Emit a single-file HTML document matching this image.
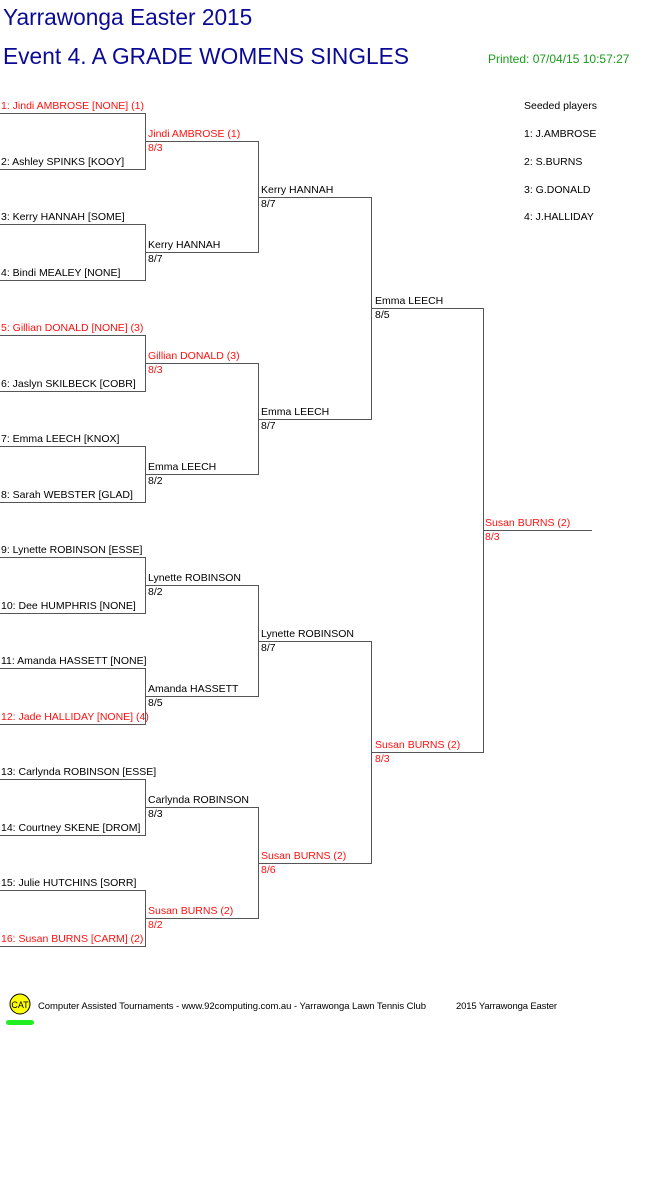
<!DOCTYPE html>
<html><head><meta charset="utf-8"><style>
html,body{margin:0;padding:0;background:#fff;width:661px;height:1196px;overflow:hidden}
svg{display:block}
text{font-family:"Liberation Sans",Arial,sans-serif;font-size:10.5px;fill:#000}
.r{fill:#ff1010}
.t{fill:#0a0a96;font-size:22.7px}
.g{fill:#1a9a1a;font-size:12px}
</style></head><body>
<svg width="661" height="1196" viewBox="0 0 661 1196" xmlns="http://www.w3.org/2000/svg">
<text class="t" x="3" y="25">Yarrawonga Easter 2015</text>
<text class="t" x="3" y="64" textLength="406">Event 4. A GRADE WOMENS SINGLES</text>
<text class="g" x="488" y="63">Printed: 07/04/15 10:57:27</text>
<text x="524" y="109">Seeded players</text>
<text x="524" y="137">1: J.AMBROSE</text>
<text x="524" y="165">2: S.BURNS</text>
<text x="524" y="193">3: G.DONALD</text>
<text x="524" y="220">4: J.HALLIDAY</text>
<g stroke="#555" stroke-width="1" shape-rendering="crispEdges" fill="none">
<path d="M0 113.5H145.5V169.5H0 M0 224.5H145.5V280.5H0 M0 335.5H145.5V391.5H0 M0 446.5H145.5V502.5H0 M0 557.5H145.5V613.5H0 M0 668.5H145.5V724.5H0 M0 779.5H145.5V835.5H0 M0 890.5H145.5V946.5H0"/>
<path d="M145 141.5H258.5V252.5H145 M145 363.5H258.5V474.5H145 M145 585.5H258.5V696.5H145 M145 807.5H258.5V918.5H145"/>
<path d="M258 197.5H371.5V419.5H258 M258 641.5H371.5V863.5H258"/>
<path d="M371 308.5H483.5V752.5H371"/>
<path d="M483 530.5H592"/>
</g>
<g>
<text class="r" x="1" y="109">1: Jindi AMBROSE [NONE] (1)</text>
<text x="1" y="165">2: Ashley SPINKS [KOOY]</text>
<text x="1" y="220">3: Kerry HANNAH [SOME]</text>
<text x="1" y="276">4: Bindi MEALEY [NONE]</text>
<text class="r" x="1" y="331">5: Gillian DONALD [NONE] (3)</text>
<text x="1" y="387">6: Jaslyn SKILBECK [COBR]</text>
<text x="1" y="442">7: Emma LEECH [KNOX]</text>
<text x="1" y="498">8: Sarah WEBSTER [GLAD]</text>
<text x="1" y="553">9: Lynette ROBINSON [ESSE]</text>
<text x="1" y="609">10: Dee HUMPHRIS [NONE]</text>
<text x="1" y="664">11: Amanda HASSETT [NONE]</text>
<text class="r" x="1" y="720">12: Jade HALLIDAY [NONE] (4)</text>
<text x="1" y="775">13: Carlynda ROBINSON [ESSE]</text>
<text x="1" y="831">14: Courtney SKENE [DROM]</text>
<text x="1" y="886">15: Julie HUTCHINS [SORR]</text>
<text class="r" x="1" y="942">16: Susan BURNS [CARM] (2)</text>

<text class="r" x="148" y="137">Jindi AMBROSE (1)</text><text class="r" x="148" y="151">8/3</text>
<text x="148" y="248">Kerry HANNAH</text><text x="148" y="262">8/7</text>
<text class="r" x="148" y="359">Gillian DONALD (3)</text><text class="r" x="148" y="373">8/3</text>
<text x="148" y="470">Emma LEECH</text><text x="148" y="484">8/2</text>
<text x="148" y="581">Lynette ROBINSON</text><text x="148" y="595">8/2</text>
<text x="148" y="692">Amanda HASSETT</text><text x="148" y="706">8/5</text>
<text x="148" y="803">Carlynda ROBINSON</text><text x="148" y="817">8/3</text>
<text class="r" x="148" y="914">Susan BURNS (2)</text><text class="r" x="148" y="928">8/2</text>

<text x="261" y="193">Kerry HANNAH</text><text x="261" y="207">8/7</text>
<text x="261" y="415">Emma LEECH</text><text x="261" y="429">8/7</text>
<text x="261" y="637">Lynette ROBINSON</text><text x="261" y="651">8/7</text>
<text class="r" x="261" y="859">Susan BURNS (2)</text><text class="r" x="261" y="873">8/6</text>

<text x="375" y="304">Emma LEECH</text><text x="375" y="318">8/5</text>
<text class="r" x="375" y="748">Susan BURNS (2)</text><text class="r" x="375" y="762">8/3</text>

<text class="r" x="485" y="526">Susan BURNS (2)</text><text class="r" x="485" y="540">8/3</text>
</g>
<ellipse cx="20" cy="1004" rx="10" ry="10" fill="#ffff00" stroke="#000" stroke-width="1"/>
<text x="20" y="1008" text-anchor="middle" style="font-size:9px">CAT</text>
<rect x="6" y="1020" width="28" height="5" rx="2.5" fill="#22ee22"/>
<text x="38" y="1009" style="font-size:9.5px" textLength="388">Computer Assisted Tournaments - www.92computing.com.au -  Yarrawonga Lawn Tennis Club</text>
<text x="456" y="1009" style="font-size:9.5px" textLength="101">2015 Yarrawonga Easter</text>
</svg>
</body></html>
